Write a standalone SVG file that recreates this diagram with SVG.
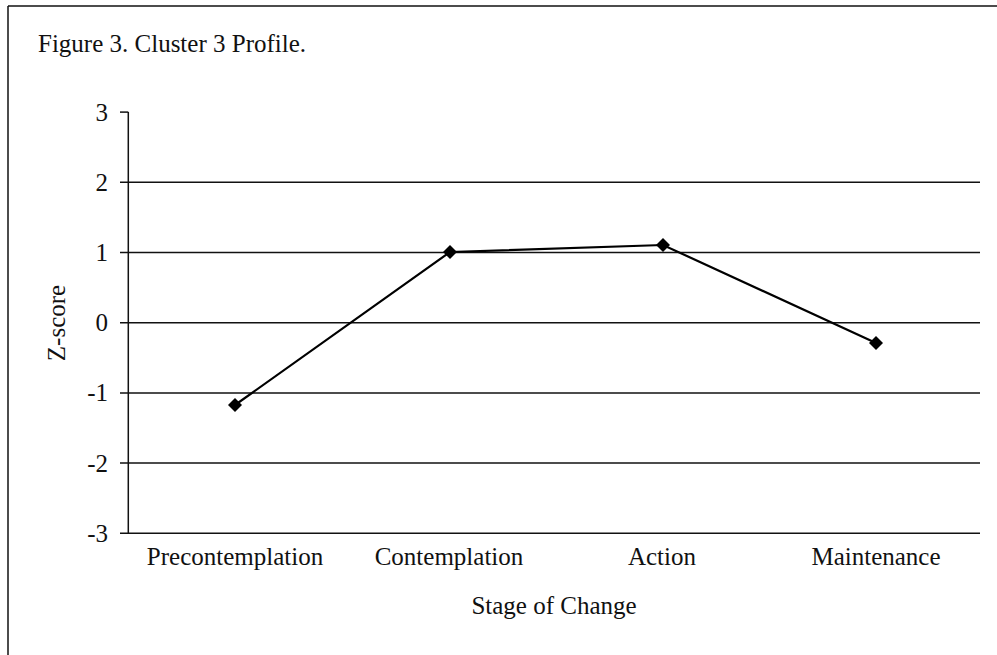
<svg xmlns="http://www.w3.org/2000/svg" width="997" height="655" viewBox="0 0 997 655">
<style>
text{font-family:"Liberation Serif","Times New Roman",serif;font-size:25px;fill:#111}
.grid{stroke:#111;stroke-width:1.5;fill:none}
.series{stroke:#000;stroke-width:2.2;fill:none}
.tick{text-anchor:end}
.cat{text-anchor:middle}
</style>
<defs>
<path id="dia" d="M0,-7 L7,0 L0,7 L-7,0 Z" fill="#000"/>
</defs>
<rect x="0" y="0" width="997" height="655" fill="#fff"/>
<g id="frame">
<line x1="8" y1="6" x2="997" y2="6" class="grid"/>
<line x1="8" y1="6" x2="8" y2="655" class="grid"/>
</g>
<text id="title" x="38" y="52">Figure 3. Cluster 3 Profile.</text>
<g id="axes">
<line x1="128.3" y1="112" x2="128.3" y2="533.3" class="grid"/>
<line x1="120" y1="112.1" x2="128.3" y2="112.1" class="grid"/>
<line x1="120" y1="182.3" x2="980" y2="182.3" class="grid"/>
<line x1="120" y1="252.5" x2="980" y2="252.5" class="grid"/>
<line x1="120" y1="322.7" x2="980" y2="322.7" class="grid"/>
<line x1="120" y1="392.9" x2="980" y2="392.9" class="grid"/>
<line x1="120" y1="463.1" x2="980" y2="463.1" class="grid"/>
<line x1="120" y1="533.3" x2="980" y2="533.3" class="grid"/>
</g>
<g id="yticks">
<text class="tick" x="108" y="121">3</text>
<text class="tick" x="108" y="191">2</text>
<text class="tick" x="108" y="261">1</text>
<text class="tick" x="108" y="331">0</text>
<text class="tick" x="108" y="401">-1</text>
<text class="tick" x="108" y="472">-2</text>
<text class="tick" x="108" y="542">-3</text>
</g>
<g id="xcats">
<text class="cat" x="235" y="565">Precontemplation</text>
<text class="cat" x="449" y="565">Contemplation</text>
<text class="cat" x="662" y="565">Action</text>
<text class="cat" x="876" y="565">Maintenance</text>
</g>
<text id="ylabel" class="cat" transform="translate(65,323) rotate(-90)">Z-score</text>
<text id="xlabel" class="cat" x="554" y="614">Stage of Change</text>
<g id="connectors">
<polyline class="series" points="235,405 450,252 663,245 876,343"/>
</g>
<g id="p1"><use href="#dia" x="235" y="405"/></g>
<g id="p2"><use href="#dia" x="450" y="252"/></g>
<g id="p3"><use href="#dia" x="663" y="245"/></g>
<g id="p4"><use href="#dia" x="876" y="343"/></g>
</svg>
